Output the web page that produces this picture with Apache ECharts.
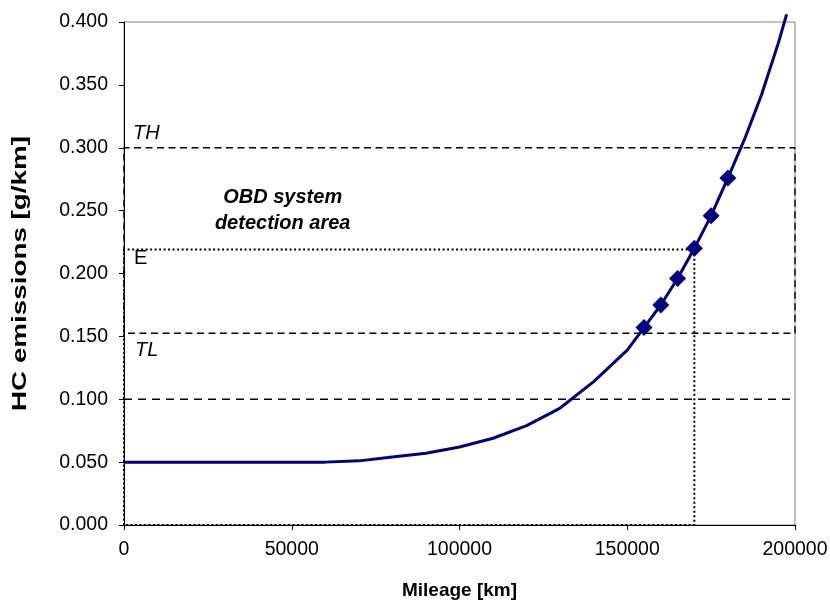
<!DOCTYPE html>
<html>
<head>
<meta charset="utf-8">
<script src="https://cdn.jsdelivr.net/npm/echarts@6/dist/echarts.min.js"></script>
<style>html,body{margin:0;padding:0;background:#fff}#c{width:830px;height:605px}</style>
</head>
<body>
<div id="c"></div>
<script>
// ---- data ----
const curveMileage = [0, 10000, 20000, 30000, 40000, 50000, 60000, 70000, 80000, 90000, 100000, 110000, 120000, 130000, 140000, 150000, 155000, 160000, 165000, 170000, 175000, 180000, 185000, 190000, 195000, 197500];
const curveHC      = [0.050, 0.050, 0.050, 0.050, 0.050, 0.050, 0.050, 0.051, 0.054, 0.057, 0.062, 0.069, 0.079, 0.093, 0.114, 0.139, 0.157, 0.175, 0.196, 0.220, 0.246, 0.276, 0.307, 0.342, 0.383, 0.406];
const markerMileage = [155000, 160000, 165000, 170000, 175000, 180000];
const markerHC      = [0.157, 0.175, 0.196, 0.220, 0.246, 0.276];
const TH = 0.300;
const TL = 0.1525;
const E = 0.219;
const E_MILEAGE = 170000;
const LIMIT = 0.100;
const X_MIN = 0, X_MAX = 200000, X_STEP = 50000;
const Y_MIN = 0, Y_MAX = 0.4, Y_STEP = 0.05;
const xTitle = 'Mileage [km]';
const yTitle = 'HC emissions [g/km]';
const labelTH = 'TH', labelTL = 'TL', labelE = 'E';
const labelArea = 'OBD system\ndetection area';

const FONT = '"Liberation Sans", Arial, sans-serif';
const chart = echarts.init(document.getElementById('c'), null, {renderer: 'canvas'});

function pairs(xs, ys) { return xs.map((x, i) => [x, ys[i]]); }

const rectTH = [[X_MIN, TL], [X_MIN, TH], [X_MAX, TH], [X_MAX, TL], [X_MIN, TL]];
const rectE  = [[X_MIN, Y_MIN], [X_MIN, E], [E_MILEAGE, E], [E_MILEAGE, Y_MIN], [X_MIN, Y_MIN]];
const limitLine = [[X_MIN, LIMIT], [X_MAX, LIMIT]];

function textPoint(x, y, text, opts) {
  return {value: [x, y], label: Object.assign({show: true, formatter: text, color: '#000', opacity: 1, fontFamily: FONT, fontSize: 20}, opts)};
}

const GRID = {left: 124, right: 35, top: 22, bottom: 80};

chart.setOption({
  animation: false,
  backgroundColor: '#fff',
  grid: Object.assign({show: true, borderColor: '#808080', borderWidth: 1, containLabel: false, outerBoundsMode: 'none'}, GRID),
  xAxis: {
    type: 'value', min: X_MIN, max: X_MAX, interval: X_STEP,
    name: xTitle, nameLocation: 'middle', nameGap: 56,
    nameTextStyle: {fontFamily: FONT, fontWeight: 'bold', fontSize: 19, color: '#000'},
    axisLine: {show: true, lineStyle: {color: '#000', width: 1}},
    axisTick: {show: true, inside: false, length: 5, lineStyle: {color: '#000'}},
    axisLabel: {fontFamily: FONT, fontSize: 19.5, color: '#000', margin: 15, formatter: v => String(v)},
    splitLine: {show: false}
  },
  yAxis: {
    type: 'value', min: Y_MIN, max: Y_MAX, interval: Y_STEP,
    axisLine: {show: true, lineStyle: {color: '#000', width: 1}},
    axisTick: {show: true, inside: false, length: 5, lineStyle: {color: '#000'}},
    axisLabel: {fontFamily: FONT, fontSize: 19.5, color: '#000', margin: 16, formatter: v => v.toFixed(3)},
    splitLine: {show: false}
  },
  graphic: [{
    type: 'text', x: 20, y: GRID.top + (605 - GRID.top - GRID.bottom) / 2,
    rotation: Math.PI / 2, scaleX: 1.39, scaleY: 1,
    style: {text: yTitle, font: 'bold 20px "Liberation Sans", Arial, sans-serif', fill: '#000', align: 'center', verticalAlign: 'middle'}
  }],
  series: [
    {type: 'line', data: rectE, symbol: 'none', silent: true,
     lineStyle: {color: '#000', width: 2, type: [2, 2.5]}, z: 3},
    {type: 'line', data: rectTH, symbol: 'none', silent: true,
     lineStyle: {color: '#000', width: 1.4, type: [7, 4.5]}, z: 3},
    {type: 'line', data: limitLine, symbol: 'none', silent: true,
     lineStyle: {color: '#000', width: 1.7, type: [8, 6]}, z: 3},
    {type: 'line', data: pairs(curveMileage, curveHC), symbol: 'none', clip: false,
     lineStyle: {color: '#000080', width: 3}, z: 5},
    {type: 'line', data: pairs(markerMileage, markerHC), symbol: 'diamond', symbolSize: 17,
     itemStyle: {color: '#000080'}, lineStyle: {width: 0, opacity: 0}, z: 6},
    {type: 'scatter', symbolSize: 0, silent: true, z: 7, itemStyle: {opacity: 1},
     data: [
       textPoint(2700, 0.3113, labelTH, {position: 'right', fontStyle: 'italic', distance: 0}),
       textPoint(3300, 0.1392, labelTL, {position: 'right', fontStyle: 'italic', distance: 0}),
       textPoint(3000, 0.2123, labelE, {position: 'right', distance: 0}),
       textPoint(47300, 0.2505, labelArea, {position: 'inside', fontWeight: 'bold', fontStyle: 'italic', lineHeight: 26, align: 'center', verticalAlign: 'middle'})
     ]}
  ]
});
</script>
</body>
</html>
